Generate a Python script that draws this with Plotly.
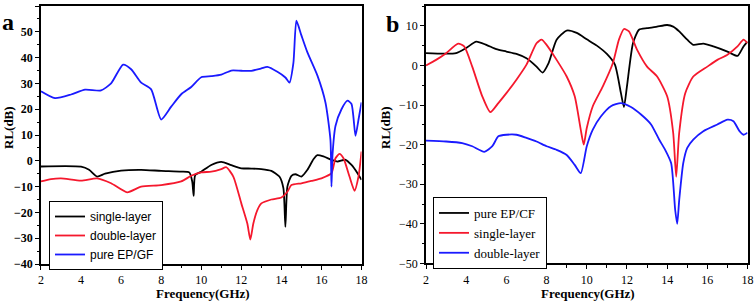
import plotly.graph_objects as go

W, H = 756, 302

# ---------------- Panel a data ----------------
a_gf_x = [2, 2.7, 3.5, 4.2, 5, 5.5, 6.1, 6.5, 7, 7.5, 8, 8.5, 9, 9.5, 10, 10.5, 11, 11.5, 12, 12.5,
          13, 13.3, 13.8, 14.2, 14.4, 14.6, 14.75, 15, 15.3, 15.8, 16.2, 16.45, 16.5, 16.55, 16.7, 17,
          17.3, 17.5, 17.7, 17.85, 18]
a_gf_y = [27, 24.3, 25.7, 27.6, 27.3, 30, 37.3, 35.5, 30.3, 27.7, 16, 21, 25.8, 28.6, 32.4, 32.8, 33.4, 35, 34.9, 34.9,
          35.8, 36.4, 34.5, 32.3, 30.3, 38, 54.3, 48.6, 42, 33, 22.6, 8, -10, 2, 13.5, 20,
          23.3, 22, 9.7, 16, 22.6]

a_single_x = [2, 4, 4.4, 4.8, 5.2, 6, 7, 8, 9, 9.4, 9.55, 9.62, 9.7, 10, 10.5, 11, 11.5, 12, 12.5, 13, 13.5,
              13.9, 14.1, 14.2, 14.3, 14.5, 14.7, 15, 15.3, 15.6, 15.8, 16.1, 16.5, 16.8, 17.2, 17.5, 17.8, 18]
a_single_y = [-2.2, -2.3, -3.5, -6.1, -5, -3.8, -3.5, -3.9, -4.2, -4.5, -8, -13.6, -5.5, -4.2, -1.6, -0.4, -1.7, -2.9, -3, -3.2, -3.9,
              -6.1, -10.6, -25.6, -10, -5.8, -5.2, -6.1, -3.5, 0.6, 2.2, 1.7, 0.4, -0.3, 0.4, -1.6, -4.8, -7.4]

a_double_x = [2, 2.5, 3, 4, 4.8, 5.5, 6.3, 7, 8, 9, 9.5, 10, 10.5, 11, 11.25, 11.6, 12, 12.3, 12.45, 12.6, 12.8,
              13, 13.5, 14, 14.3, 14.5, 15, 15.5, 16, 16.5, 16.7, 16.9, 17.1, 17.4, 17.65, 17.85, 18]
a_double_y = [-8, -7.1, -6.8, -7.7, -6.8, -8.7, -12.2, -10, -9.4, -8, -5.8, -4.5, -4.2, -3.2, -2.5, -6.1, -16.5, -24.3, -30.5, -24.3, -19.1,
              -16.5, -15, -14.2, -12, -9.4, -8.7, -7.8, -6.8, -4.8, 1, 2.7, 1, -6.1, -11.6, -6.1, 3.6]

# ---------------- Panel b data ----------------
b_cf_x = [2, 3.5, 4, 4.5, 5, 5.5, 6, 6.5, 7, 7.5, 7.8, 8.1, 8.5, 9, 9.5, 10, 10.5, 11, 11.4, 11.7, 11.85,
          12, 12.3, 12.6, 13, 13.5, 14, 14.3, 14.6, 15, 15.3, 15.8, 16.3, 17, 17.5, 17.8, 18]
b_cf_y = [3.1, 3.1, 4.4, 6, 5.2, 4.1, 3.5, 2.9, 1.8, -0.3, -1.8, 0.6, 6.5, 8.8, 8.2, 6.6, 5, 2.9, 0.2, -7, -10.5,
          -5.3, 5.6, 9, 9.4, 9.8, 10.2, 9.8, 8.6, 6.5, 5.2, 5.5, 4.8, 3.5, 2.4, 4.8, 6]

b_single_x = [2, 2.5, 3, 3.6, 3.9, 4.3, 4.8, 5.2, 5.6, 6, 6.5, 7, 7.5, 7.75, 8, 8.5, 9, 9.4, 9.7, 9.85, 10,
              10.3, 10.8, 11.3, 11.6, 11.85, 12.1, 12.5, 13, 13.5, 14, 14.3, 14.45, 14.6, 14.9, 15.3, 16, 16.5,
              17, 17.5, 17.8, 18]
b_single_y = [0, 1.4, 3.1, 5.5, 4.8, -0.3, -7.8, -11.8, -9.5, -7, -3.6, 0.2, 5.6, 6.5, 5.2, 1.4, -2.8, -7.8, -16.2, -20, -15.8,
              -10.3, -5.3, 0.6, 6.5, 9.2, 8.6, 4, -0.3, -2.8, -7.8, -17, -28.1, -17, -7, -2.8, -0.3, 1.4,
              2.7, 4.8, 6.5, 5.6]

b_double_x = [2, 3, 3.8, 4.3, 4.9, 5.3, 5.6, 6, 6.5, 7, 7.5, 8, 8.5, 9, 9.4, 9.7, 10, 10.3, 10.7, 11.2, 11.7,
              12.2, 12.7, 13.2, 13.6, 13.9, 14.2, 14.4, 14.5, 14.6, 14.8, 15, 15.3, 15.8, 16.5, 17, 17.3, 17.6,
              17.8, 18]
b_double_y = [-19, -19.2, -19.6, -20.4, -21.8, -20.4, -17.9, -17.5, -17.5, -18.3, -19.2, -20.4, -21.3, -22.6, -25.1, -27.2, -20.4, -16.2, -12.9, -10.3, -9.5,
              -10.5, -12.4, -14.9, -18.7, -21.3, -24.7, -36.5, -40, -34, -24.7, -20.8, -18.7, -16.6, -14.9, -13.7, -14.1, -16.6,
              -17.5, -17]

x_ticks = [2, 4, 6, 8, 10, 12, 14, 16, 18]

BLACK = "#000000"
RED = "#f5182d"
BLUE = "#1a1aff"

fig = go.Figure()
LW = 1.8
SM = 0.6

def line(c):
    return dict(color=c, width=LW, shape="spline", smoothing=SM)

fig.add_trace(go.Scatter(x=a_single_x, y=a_single_y, name="single-layer", mode="lines",
                         line=line(BLACK), xaxis="x", yaxis="y", legend="legend"))
fig.add_trace(go.Scatter(x=a_double_x, y=a_double_y, name="double-layer", mode="lines",
                         line=line(RED), xaxis="x", yaxis="y", legend="legend"))
fig.add_trace(go.Scatter(x=a_gf_x, y=a_gf_y, name="pure EP/GF", mode="lines",
                         line=line(BLUE), xaxis="x", yaxis="y", legend="legend"))

fig.add_trace(go.Scatter(x=b_cf_x, y=b_cf_y, name="pure EP/CF", mode="lines",
                         line=line(BLACK), xaxis="x2", yaxis="y2", legend="legend2"))
fig.add_trace(go.Scatter(x=b_single_x, y=b_single_y, name="single-layer", mode="lines",
                         line=line(RED), xaxis="x2", yaxis="y2", legend="legend2"))
fig.add_trace(go.Scatter(x=b_double_x, y=b_double_y, name="double-layer", mode="lines",
                         line=line(BLUE), xaxis="x2", yaxis="y2", legend="legend2"))

tickfont = dict(family="Liberation Serif", size=12, color="black")
minor_x = dict(dtick=1, tick0=2, ticks="outside", ticklen=2.5, tickwidth=1.2, tickcolor="black")
common_x = dict(range=[2, 18], tickvals=x_ticks, ticks="outside", ticklen=4, tickwidth=1.3, tickcolor="black",
                showline=True, linecolor="black", linewidth=1.5, mirror=True, showgrid=False, zeroline=False,
                tickfont=tickfont, minor=minor_x, automargin=False,
                tickprefix="<b>", ticksuffix="</b>")
common_y = dict(ticks="outside", ticklen=4, tickwidth=1.3, tickcolor="black", showline=True, linecolor="black",
                linewidth=1.5, mirror=True, showgrid=False, zeroline=False, tickfont=tickfont, automargin=False,
                tickprefix="<b>", ticksuffix="</b>")

def px_x(p):
    return p / W

def px_y(p):
    return 1 - p / H

anns = []

def add_text(txt, x, y, size=12, angle=0):
    anns.append(dict(text="<b>" + txt + "</b>", x=px_x(x), y=px_y(y), xref="paper", yref="paper",
                     xanchor="center", yanchor="middle", showarrow=False, textangle=angle,
                     font=dict(family="Liberation Serif", size=size, color="black")))

add_text("a", 8, 22, size=24)
add_text("b", 392, 24, size=24)
add_text("Frequency(GHz)", 203, 293, size=13)
add_text("Frequency(GHz)", 588, 293, size=13)
add_text("RL(dB)", 9, 128, size=13, angle=-90)
add_text("RL(dB)", 386, 128, size=13, angle=-90)

fig.update_layout(
    width=W, height=H,
    template="none",
    margin=dict(l=0, r=0, t=0, b=0, autoexpand=False),
    paper_bgcolor="white", plot_bgcolor="white",
    xaxis=dict(domain=[0.0542, 0.4782], anchor="y", **common_x),
    yaxis=dict(domain=[0.1258, 0.9801], anchor="x", range=[-40, 60], dtick=10,
               minor=dict(dtick=5, ticks="outside", ticklen=2.5, tickwidth=1.2, tickcolor="black"), **common_y),
    xaxis2=dict(domain=[0.5635, 0.9888], anchor="y2", **common_x),
    yaxis2=dict(domain=[0.1275, 0.9801], anchor="x2", range=[-50, 15], tickvals=[-50, -40, -30, -20, -10, 0, 10],
                minor=dict(dtick=5, tick0=0, ticks="outside", ticklen=2.5, tickwidth=1.2, tickcolor="black"), **common_y),
    legend=dict(x=px_x(49), y=px_y(201), xanchor="left", yanchor="top", bordercolor="black", borderwidth=1,
                bgcolor="white", font=dict(family="Liberation Sans", size=12, color="black"),
                tracegroupgap=0, itemwidth=30),
    legend2=dict(x=px_x(433), y=px_y(197), xanchor="left", yanchor="top", bordercolor="black", borderwidth=1,
                 bgcolor="white", font=dict(family="Liberation Serif", size=13, color="black"),
                 tracegroupgap=0, itemwidth=30),
    annotations=anns,
)

fig.write_html("out.html", config={"displayModeBar": False},
               post_script="document.body.style.margin='0';document.body.style.overflow='hidden';")
